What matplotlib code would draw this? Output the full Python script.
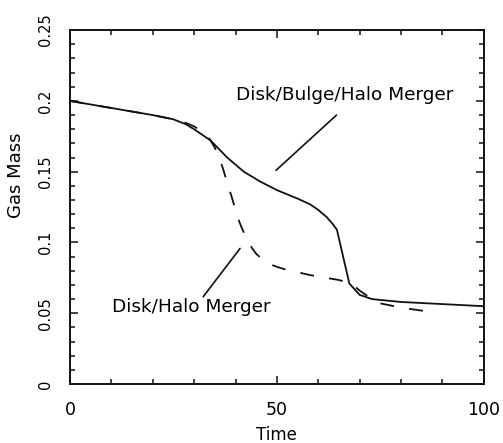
import matplotlib
matplotlib.use('Agg')
import matplotlib.pyplot as plt
from matplotlib.ticker import MultipleLocator, FuncFormatter

# Gas mass vs time for the two merger runs
t_bulge = [0, 10, 20, 25, 28, 30, 32, 34, 36, 38, 40, 42, 44, 46, 48, 50, 55, 58, 60, 62,
           63.5, 64.5, 66, 67.5, 70, 73, 80, 90, 100]
gas_bulge = [0.200, 0.195, 0.190, 0.187, 0.1835, 0.180, 0.176, 0.172, 0.166, 0.160, 0.155,
             0.150, 0.1465, 0.143, 0.140, 0.137, 0.131, 0.127, 0.123, 0.118, 0.113, 0.109,
             0.090, 0.071, 0.063, 0.060, 0.058, 0.0565, 0.055]

t_halo = [0, 10, 20, 25, 28, 30, 33, 34, 35, 36, 37, 38, 39, 40, 41, 42, 43, 44, 45, 46.5,
          48, 50, 52, 58, 65, 68, 70, 72, 75, 80, 87]
gas_halo = [0.200, 0.195, 0.190, 0.187, 0.1845, 0.182, 0.176, 0.172, 0.167, 0.160, 0.152,
            0.142, 0.133, 0.123, 0.114, 0.107, 0.101, 0.096, 0.092, 0.088, 0.085, 0.0828,
            0.081, 0.077, 0.0735, 0.071, 0.066, 0.062, 0.057, 0.054, 0.051]

plt.rcParams['font.family'] = 'DejaVu Sans'
plt.rcParams['lines.scale_dashes'] = False

fig = plt.figure(figsize=(5.03, 4.43), dpi=100)
ax = fig.add_axes([0.139, 0.133, 0.823, 0.799])

ink = '#111111'
ax.plot(t_bulge, gas_bulge, color=ink, lw=1.3)
ax.plot(t_halo, gas_halo, color=ink, lw=1.3, dashes=(10, 11))

ax.set_xlim(0, 100)
ax.set_ylim(0, 0.25)

ax.xaxis.set_major_locator(MultipleLocator(50))
ax.xaxis.set_minor_locator(MultipleLocator(10))
ax.yaxis.set_major_locator(MultipleLocator(0.05))
ax.yaxis.set_minor_locator(MultipleLocator(0.01))
ax.yaxis.set_major_formatter(FuncFormatter(lambda v, p: '%g' % round(v, 3)))

ax.tick_params(which='both', direction='in', top=True, right=True, color=ink, width=1.1)
ax.tick_params(which='major', length=6, pad=12)
ax.tick_params(which='minor', length=3.5)
ax.tick_params(axis='x', labelsize=12.5)
ax.tick_params(axis='y', labelsize=10.5, labelrotation=90)
for lab in ax.get_yticklabels():
    lab.set_va('center')

for s in ax.spines.values():
    s.set_linewidth(1.4)
    s.set_color(ink)

ax.set_xlabel('Time', fontsize=12)
ax.set_ylabel('Gas Mass', fontsize=13)
ax.xaxis.set_label_coords(0.5, -0.118)
ax.yaxis.set_label_coords(-0.108, 0.59)

# curve labels with leader lines
ax.text(66.4, 0.204, 'Disk/Bulge/Halo Merger', fontsize=13.3, ha='center', va='center')
ax.annotate('', xy=(49.8, 0.151), xytext=(64.4, 0.190),
            arrowprops=dict(arrowstyle='-', color=ink, lw=1.2, shrinkA=0, shrinkB=0))
ax.text(29.3, 0.0546, 'Disk/Halo Merger', fontsize=13.3, ha='center', va='center')
ax.annotate('', xy=(41.1, 0.0958), xytext=(32.2, 0.0617),
            arrowprops=dict(arrowstyle='-', color=ink, lw=1.2, shrinkA=0, shrinkB=0))

fig.savefig('out.png', dpi=100)
